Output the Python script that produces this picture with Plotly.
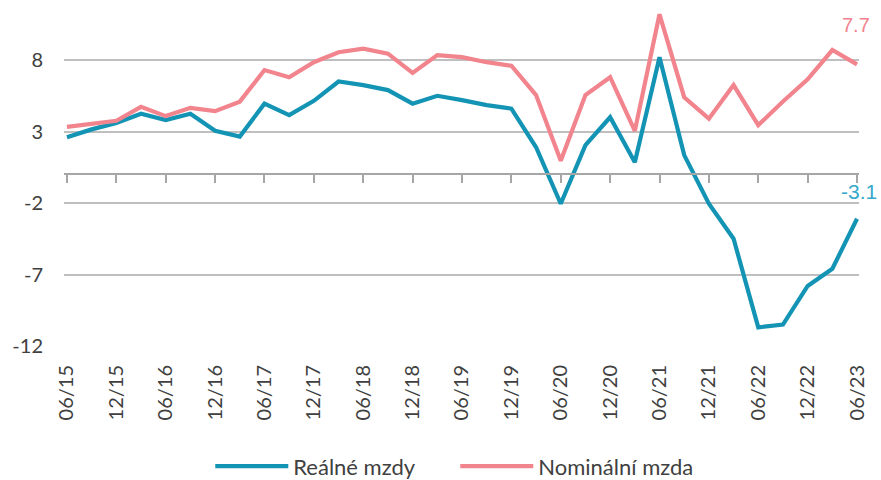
import plotly.graph_objects as go

# Quarterly periods (MM/YY)
periods = [
    "06/15", "09/15", "12/15", "03/16", "06/16", "09/16", "12/16", "03/17",
    "06/17", "09/17", "12/17", "03/18", "06/18", "09/18", "12/18", "03/19",
    "06/19", "09/19", "12/19", "03/20", "06/20", "09/20", "12/20", "03/21",
    "06/21", "09/21", "12/21", "03/22", "06/22", "09/22", "12/22", "03/23",
    "06/23",
]
# Real wages y/y (%)
real_wages = [
    2.6, 3.15, 3.6, 4.25, 3.8, 4.25, 3.05, 2.65,
    4.95, 4.15, 5.15, 6.5, 6.25, 5.9, 4.95, 5.5,
    5.2, 4.85, 4.6, 1.9, -2.05, 2.05, 4.0, 0.85,
    8.2, 1.35, -2.05, -4.5, -10.7, -10.5, -7.8, -6.6,
    -3.1,
]
# Nominal wage y/y (%)
nominal_wage = [
    3.33, 3.57, 3.75, 4.73, 4.08, 4.66, 4.43, 5.09,
    7.3, 6.8, 7.85, 8.55, 8.8, 8.45, 7.1, 8.35,
    8.2, 7.85, 7.6, 5.55, 0.95, 5.55, 6.8, 3.05,
    11.2, 5.4, 3.9, 6.25, 3.45, 5.1, 6.65, 8.7,
    7.7,
]
tick_labels = periods[::2]
y_ticks = [-12, -7, -2, 3, 8]
y_tick_text = [str(v) for v in y_ticks]

series_names = ["Reálné mzdy", "Nominální mzda"]
BLUE = "#1494B4"
BLUE_LABEL = "#35A9C9"
PINK = "#F2848E"
TEXT = "#404040"
GRID = "#BFBFBF"
FONT = "Lato"

y_min, y_max = -12, 12.2
x_range = [-0.12, len(periods) - 1 + 0.08]

fig = go.Figure()
fig.add_trace(go.Scatter(
    x=periods, y=real_wages, name=series_names[0], mode="lines",
    line=dict(color=BLUE, width=4.2), hoverinfo="x+y",
))
fig.add_trace(go.Scatter(
    x=periods, y=nominal_wage, name=series_names[1], mode="lines",
    line=dict(color=PINK, width=4.2), hoverinfo="x+y",
))
# helper trace so the zero axis (with tick marks) is drawn
fig.add_trace(go.Scatter(
    x=periods, y=[None] * len(periods), xaxis="x2", mode="lines",
    showlegend=False, hoverinfo="skip",
))

# end-of-series data labels
fig.add_annotation(
    x=periods[-1], y=nominal_wage[-1], text=f"{nominal_wage[-1]:.1f}",
    showarrow=False, yshift=39, xshift=-1,
    font=dict(family="Liberation Sans", size=20, color=PINK),
)
fig.add_annotation(
    x=periods[-1], y=real_wages[-1], text=f"{real_wages[-1]:.1f}",
    showarrow=False, yshift=27, xshift=2,
    font=dict(family="Liberation Sans", size=21, color=BLUE_LABEL),
)

zero_pos = (0 - y_min) / (y_max - y_min)

fig.update_layout(
    width=881, height=480,
    margin=dict(l=64, r=22, t=0, b=134, autoexpand=False),
    paper_bgcolor="white", plot_bgcolor="white",
    font=dict(family=FONT, size=20, color=TEXT),
    showlegend=True,
    legend=dict(
        orientation="h", x=0.184, xanchor="left", y=-0.348, yanchor="middle",
        font=dict(family=FONT, size=22, color=TEXT),
        itemwidth=73, entrywidth=157, entrywidthmode="pixels",
    ),
    xaxis=dict(
        type="category", categoryorder="array", categoryarray=periods,
        range=x_range, showgrid=False, zeroline=False, showline=False,
        ticks="", tickmode="array", tickvals=tick_labels, ticktext=tick_labels,
        tickangle=-90, ticklabelstandoff=14, automargin=False,
        tickfont=dict(family=FONT, size=20, color=TEXT),
    ),
    xaxis2=dict(
        type="category", categoryorder="array", categoryarray=periods,
        overlaying="x", anchor="free", position=zero_pos, side="bottom",
        range=x_range, showgrid=False, zeroline=False,
        showline=True, linecolor="#A6A6A6", linewidth=1.5,
        ticks="outside", ticklen=8, tickwidth=1.5, tickcolor="#A6A6A6",
        tickmode="array", tickvals=tick_labels, showticklabels=False,
        automargin=False,
    ),
    yaxis=dict(
        range=[y_min, y_max], tickmode="array", tickvals=y_ticks,
        ticktext=y_tick_text,
        showgrid=True, gridcolor=GRID, gridwidth=1.5,
        zeroline=False, showline=False, ticks="",
        ticklabelstandoff=20, automargin=False,
        tickfont=dict(family=FONT, size=20, color=TEXT),
    ),
)

fig.write_html(
    "out.html",
    config={"displayModeBar": False},
    post_script="document.body.style.margin='0';document.body.style.overflow='hidden';",
)
